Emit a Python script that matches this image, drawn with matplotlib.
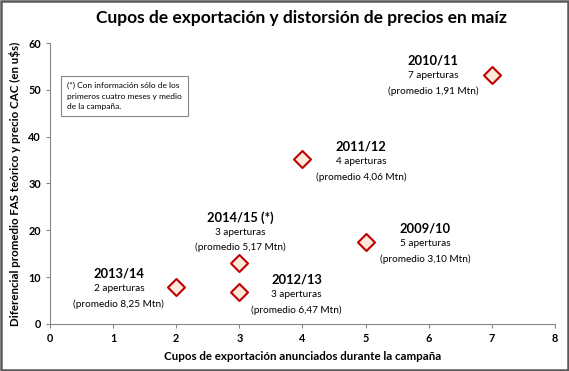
import matplotlib
matplotlib.use("Agg")
import matplotlib.pyplot as plt
from matplotlib.patches import Rectangle

plt.rcParams['font.family'] = ['Lato', 'DejaVu Sans']

# data
campaigns = ["2009/10", "2010/11", "2011/12", "2012/13", "2013/14", "2014/15 (*)"]
cupos = [5, 7, 4, 3, 2, 3]
diferencial = [17.5, 53.2, 35.2, 6.8, 7.9, 13.0]
aperturas = ["5 aperturas", "7 aperturas", "4 aperturas", "3 aperturas", "2 aperturas", "3 aperturas"]
promedios = ["(promedio 3,10 Mtn)", "(promedio 1,91 Mtn)", "(promedio 4,06 Mtn)",
             "(promedio 6,47 Mtn)", "(promedio 8,25 Mtn)", "(promedio 5,17 Mtn)"]
# label anchor (center x, year-line y) for each campaign
label_pos = [(5.94, 20.3), (6.07, 56.2), (4.93, 37.8), (3.91, 9.4), (1.09, 10.7), (3.01, 22.8)]

fig = plt.figure(figsize=(5.69, 3.71), dpi=100)
ax = fig.add_axes([0.088, 0.127, 0.887, 0.757])

ax.scatter(cupos, diferencial, marker="D", s=75, facecolor="#fde9d9",
           edgecolor="#c00000", linewidth=1.5, zorder=3)

for name, ap, pr, (lx, ly) in zip(campaigns, aperturas, promedios, label_pos):
    ax.text(lx, ly, name, ha="center", va="center", fontsize=9.3, fontweight="bold")
    ax.text(lx, ly - 3.2, ap, ha="center", va="center", fontsize=7.2)
    ax.text(lx, ly - 6.4, pr, ha="center", va="center", fontsize=7.2)

ax.set_xlim(0, 8)
ax.set_ylim(0, 60)
ax.set_xticks(range(0, 9))
ax.set_yticks(range(0, 61, 10))
for lbl in ax.get_xticklabels() + ax.get_yticklabels():
    lbl.set_fontweight("bold")
ax.tick_params(labelsize=7.8, direction="out", length=3, color="#868686")
for s in ["top", "right"]:
    ax.spines[s].set_visible(False)
for s in ["left", "bottom"]:
    ax.spines[s].set_color("#868686")

ax.set_xlabel("Cupos de exportación anunciados durante la campaña",
              fontsize=8.3, fontweight="bold", labelpad=5)
ax.set_ylabel("Diferencial promedio FAS teórico y precio CAC (en u$s)",
              fontsize=8.3, fontweight="bold", labelpad=5)

fig.text(0.53, 0.952, "Cupos de exportación y distorsión de precios en maíz",
         ha="center", va="center", fontsize=12.5, fontweight="bold")

# note box
ax.text(0.27, 48.7, "(*) Con información sólo de los\nprimeros cuatro meses y medio\nde la campaña.",
        ha="left", va="center", fontsize=6.0, linespacing=1.55, zorder=4,
        bbox=dict(boxstyle="square,pad=0.75", facecolor="white", edgecolor="#868686", linewidth=0.8))

# figure border
fig.patches.append(Rectangle((0.002, 0.003), 0.996, 0.994, transform=fig.transFigure,
                             fill=False, edgecolor="#595959", linewidth=1.8))

fig.savefig("out.png", dpi=100)
